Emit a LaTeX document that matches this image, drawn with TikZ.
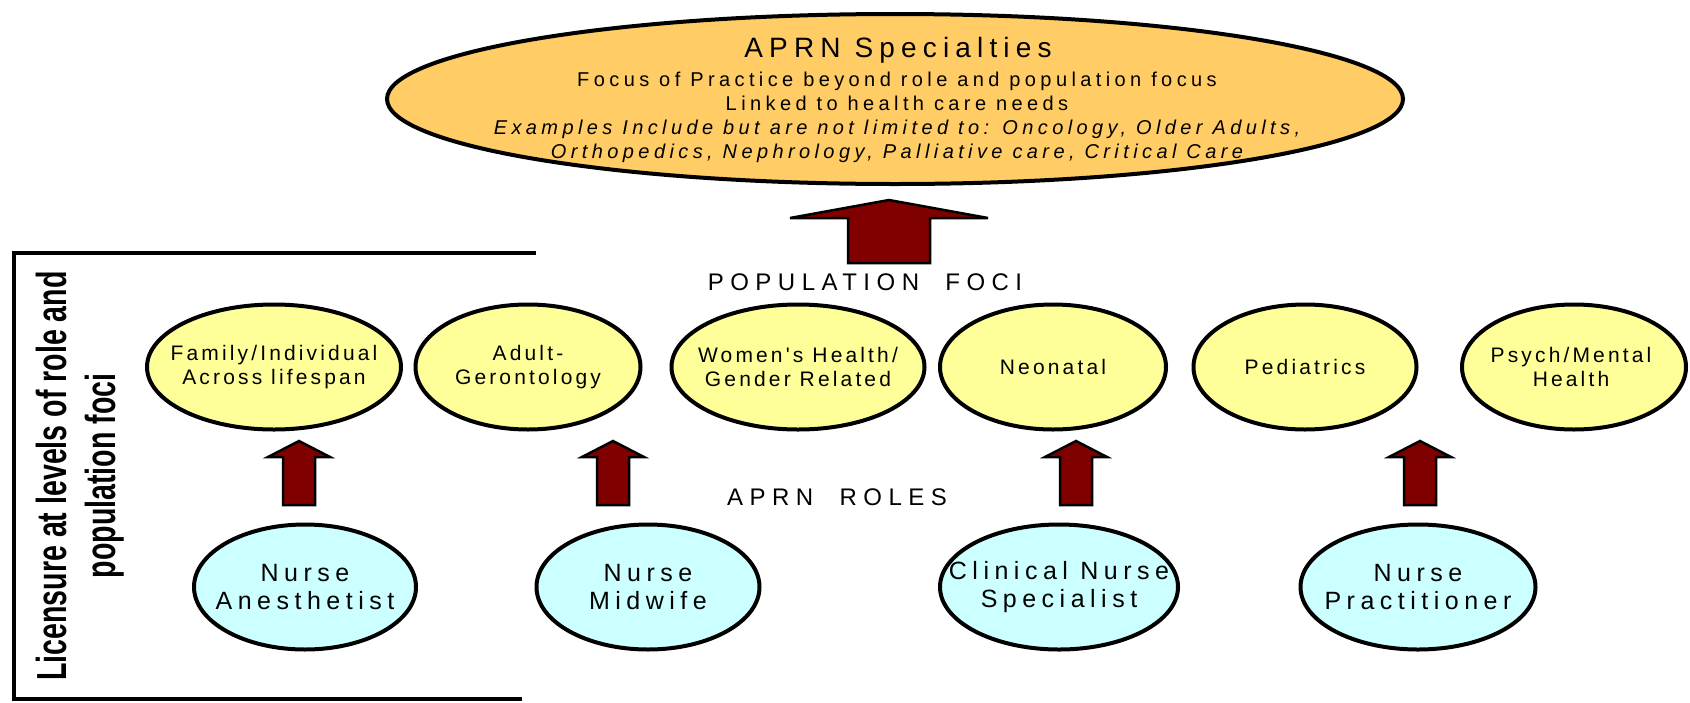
\documentclass[tikz,border=0pt]{standalone}
\usepackage{fontspec}
\setmainfont{Liberation Sans}
\newfontfamily\specfont[LetterSpace=22]{Liberation Sans}
\newfontfamily\ovalfont[LetterSpace=15]{Liberation Sans}
\newfontfamily\rolefont[LetterSpace=22]{Liberation Sans}
\newfontfamily\headfont[LetterSpace=27,WordSpace=2]{Liberation Sans}
\usetikzlibrary{shapes.geometric,calc}

\definecolor{specfill}{HTML}{FFCC66}
\definecolor{focifill}{HTML}{FFFF99}
\definecolor{rolefill}{HTML}{CCFFFF}
\definecolor{arrowred}{HTML}{800000}

% block arrow: #1 tail, #2 tip, #3 half shaft, #4 half head, #5 head length
\newcommand{\blockarrow}[5]{%
  \draw[arrowfill] ($(#1)+(-#3,0)$) -- ($(#2)+(-#3,#5)$) -- ($(#2)+(-#4,#5)$)
    -- (#2) -- ($(#2)+(#4,#5)$) -- ($(#2)+(#3,#5)$) -- ($(#1)+(#3,0)$) -- cycle;}

\begin{document}
\begin{tikzpicture}[
            x = 1pt, y = -1pt, % pixel grid, y pointing down
            semithick % line style
        ]

        \tikzstyle{oval}=[
            ellipse,
            draw = black,
            line width = 4pt,
            inner sep = 0pt
        ]
        \tikzstyle{spec}=[oval, fill = specfill, minimum width = 1016pt, minimum height = 170pt]
        \tikzstyle{focus}=[oval, fill = focifill, minimum height = 125pt]
        \tikzstyle{role}=[oval, fill = rolefill, minimum height = 125pt]
        \tikzstyle{focustext}=[align = center, font = \ovalfont\fontsize{21}{24}\selectfont]
        \tikzstyle{roletext}=[align = center, font = \rolefont\fontsize{25}{28}\selectfont]
        \tikzstyle{heading}=[font = \headfont\fontsize{24}{28}\selectfont]
        \tikzstyle{arrowfill}=[fill = arrowred, draw = black, line width = 2.5pt, line join = miter]

        \useasboundingbox (0,0) rectangle (1690,702);

        % licensure frame
        \draw[line width = 4.5pt] (536,253) -- (14,253) -- (14,699) -- (522,699);
        \node[rotate = 90, xscale = 0.68, transform shape, align = center,
              font = \fontsize{42}{49}\selectfont\bfseries] (licence) at (80,476)
              {Licensure at levels of role and\\population foci};

        % specialties
        \node[spec] (spec) at (895,99) {};
        \node[font = \specfont\fontsize{28}{33}\selectfont, anchor = base] (spectitle) at (898,57) {APRN Specialties};
        \node[align = center, font = \specfont\fontsize{20}{24}\selectfont] (specnote) at (897,117)
            {Focus of Practice beyond role and population focus\\
             Linked to health care needs\\
             {\itshape Examples Include but are not limited to: Oncology, Older Adults,}\\
             {\itshape Orthopedics, Nephrology, Palliative care, Critical Care}};

        \node[heading] (popfoci) at (865,282) {POPULATION FOCI};
        \node[heading] (aprnroles) at (837,497) {APRN ROLES};

        % population foci
        \node[focus, minimum width = 254pt] (family) at (274,367) {};
        \node[focus, minimum width = 225pt] (adult) at (528,367) {};
        \node[focus, minimum width = 253pt] (women) at (798,367) {};
        \node[focus, minimum width = 226pt] (neonatal) at (1053,367) {};
        \node[focus, minimum width = 223pt] (pediatrics) at (1305,367) {};
        \node[focus, minimum width = 224pt] (psych) at (1574,367) {};

        \node[focustext] (familytxt) at (family) {Family/Individual\\Across lifespan};
        \node[focustext] (adulttxt) at (adult) {Adult-\\Gerontology};
        \node[focustext] (womentxt) at (women) {Women's Health/\\Gender Related};
        \node[focustext] (neonataltxt) at (neonatal) {Neonatal};
        \node[focustext] (pediatricstxt) at (pediatrics) {Pediatrics};
        \node[focustext] (psychtxt) at (1571,367) {Psych/Mental\\Health};

        % roles
        \node[role, minimum width = 222pt] (anest) at (305,587) {};
        \node[role, minimum width = 223pt] (midwife) at (648,587) {};
        \node[role, minimum width = 238pt] (cns) at (1059,587) {};
        \node[role, minimum width = 235pt] (np) at (1418,587) {};

        \node[roletext] (anesttxt) at (anest) {Nurse\\Anesthetist};
        \node[roletext] (midwifetxt) at (midwife) {Nurse\\Midwife};
        \node[roletext] (cnstxt) at (cns) {Clinical Nurse\\Specialist};
        \node[roletext] (nptxt) at (np) {Nurse\\Practitioner};

        % arrows
        \coordinate (tail0) at (889,263);
        \coordinate (tip0) at (889,200);
        \coordinate (tail1) at (299,505);
        \coordinate (tip1) at (299,441);
        \coordinate (tail2) at (613,505);
        \coordinate (tip2) at (613,441);
        \coordinate (tail3) at (1076,505);
        \coordinate (tip3) at (1076,441);
        \coordinate (tail4) at (1420,505);
        \coordinate (tip4) at (1420,441);

        \blockarrow{tail0}{tip0}{41}{99}{18}
        \blockarrow{tail1}{tip1}{16}{31}{16}
        \blockarrow{tail2}{tip2}{16}{31}{16}
        \blockarrow{tail3}{tip3}{16}{31}{16}
        \blockarrow{tail4}{tip4}{16}{31}{16}
    \end{tikzpicture}
\end{document}
